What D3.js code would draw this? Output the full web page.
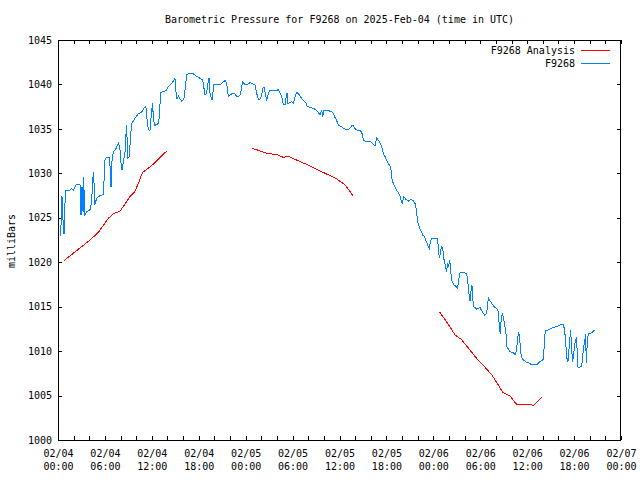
<!DOCTYPE html>
<html><head><meta charset="utf-8">
<script src="https://cdn.jsdelivr.net/npm/d3@7"></script>
<style>
body{margin:0;background:#fff;}
text{font-family:"DejaVu Sans Mono","Liberation Mono",monospace;font-size:10px;fill:#000;}
</style></head><body>
<svg id="chart" width="640" height="480"></svg>
<script>
const titleText = "Barometric Pressure for F9268 on 2025-Feb-04 (time in UTC)";
const yLabel = "milliBars";
const seriesNames = ["F9268 Analysis", "F9268"];
const seriesColors = ["#ff0000", "#0080ff"];
const yTicks = [1000,1005,1010,1015,1020,1025,1030,1035,1040,1045];
// hours since 2025-02-04 00:00 UTC
const stationHours = [0.34,0.38,0.51,0.68,0.77,0.9,1.02,1.53,1.75,1.96,2.39,2.81,2.94,3.07,3.2,3.28,3.41,3.67,4.09,4.31,4.43,4.56,4.69,4.94,5.37,5.8,6.01,6.22,6.52,6.65,6.78,6.91,7.08,7.42,7.76,7.93,8.06,8.18,8.35,8.57,8.7,8.78,8.91,9.12,9.29,9.42,9.85,10.27,10.7,11.13,11.25,11.42,11.55,11.76,11.98,12.11,12.19,12.4,12.83,12.96,13.13,13.47,13.81,14.11,14.54,14.96,15.09,15.22,15.39,15.6,15.81,16.11,16.28,16.45,16.88,17.31,17.73,
18.16,18.5,18.67,18.8,19.01,19.14,19.31,19.44,19.56,19.69,19.95,20.29,20.72,21.14,21.36,21.57,21.78,21.99,22.21,22.63,22.85,23.19,23.36,23.49,23.61,23.83,24.13,24.55,24.98,25.19,25.41,25.62,25.83,26.05,26.17,26.34,26.51,26.68,26.9,27.11,27.54,27.96,28.18,28.39,28.6,28.82,29.03,29.16,29.29,29.41,29.67,29.88,30.1,30.31,30.52,30.73,30.95,31.16,31.37,31.72,31.88,32.23,32.65,32.99,33.29,33.5,33.72,33.84,34.02,34.27,34.57,34.99,35.21,35.42,35.64,35.85,36.28,36.49,36.92,37.34,37.55,37.77,37.98,38.19,38.62,38.83,39.05,39.47,39.98,40.32,40.54,40.75,40.96,
41.18,41.39,41.6,41.82,42.03,42.24,42.46,42.58,42.71,42.88,43.09,43.31,43.52,43.73,43.86,44.03,44.24,44.5,44.8,45.1,45.44,45.65,45.78,45.87,45.99,46.21,46.42,46.63,46.84,47.06,47.27,47.48,47.66,47.78,48.21,48.55,48.68,48.81,48.93,49.06,49.19,49.4,49.57,49.7,49.83,49.96,50.09,50.21,
50.34,50.55,50.98,51.11,51.24,51.41,51.83,52.26,52.39,52.47,52.6,52.69,52.81,52.94,53.03,53.15,53.32,53.54,53.75,53.96,54.18,54.39,54.6,54.82,54.94,55.07,55.24,55.46,55.75,56.1,56.31,56.44,56.57,56.69,56.82,56.95,57.12,57.29,57.42,57.59,57.8,58.23,58.44,58.65,58.78,58.91,59.04,59.17,59.29,59.51,59.93,60.36,60.57,61.21,61.42,61.64,61.85,62.06,62.19,62.32,62.7,63.13,63.34,63.77,63.98,64.19,64.53,64.66,64.83,64.96,65.09,65.22,65.34,65.47,65.56,65.69,65.81,65.94,66.07,66.2,66.33,66.45,66.58,66.96,67.09,67.22,67.35,67.48,67.56,67.69,67.82,68.03,68.29,68.46,68.63];
const stationPressure = [1022.9,1024.0,1027.4,1024.0,1023.2,1026.8,1028.1,1028.1,1028.3,1028.1,1028.8,1028.8,1025.3,1028.5,1025.7,1029.6,1025.3,1025.7,1025.9,1026.8,1029.3,1030.2,1026.4,1027.2,1027.5,1027.6,1031.5,1031.8,1031.8,1030.9,1028.5,1031.5,1032.4,1032.8,1033.45,1032.6,1031.1,1030.4,1031.2,1032.4,1034.5,1035.4,1031.7,1031.9,1034.3,1035.6,1036.2,1036.7,1036.9,1037.5,1037.4,1035.8,1034.9,1034.8,1037.1,1037.9,1036.1,1035.4,1035.6,1036.4,1039.1,1039.2,1039.3,1039.75,1040.1,1040.7,1039.2,1038.4,1038.7,1038.4,1038.1,1038.4,1039.6,1041.1,1041.25,1041.2,1040.9,
1040.69,1040.5,1039.56,1038.81,1039.0,1039.94,1040.69,1039.0,1038.63,1038.25,1040.05,1040.05,1039.94,1040.31,1040.43,1040.13,1038.63,1038.81,1038.93,1038.93,1038.63,1038.7,1039.0,1039.75,1040.31,1040.05,1039.94,1040.2,1040.05,1039.94,1039.0,1038.33,1038.33,1038.7,1039.56,1039.68,1039.0,1038.18,1039.0,1039.3,1039.26,1039.3,1039.45,1039.0,1038.63,1037.69,1037.69,1038.44,1039.08,1037.88,1037.95,1038.06,1037.88,1038.63,1039.08,1039.0,1038.7,1038.44,1038.18,1037.95,1037.5,1037.43,1037.31,1037.13,1036.83,1036.56,1037.13,1036.38,1037.13,1037.05,1037.05,1036.94,1036.75,1036.3,1035.93,1035.44,1035.25,1035.06,1034.88,1035.06,1035.33,1035.33,1035.06,1034.88,1034.8,1034.69,1033.75,1033.56,1033.56,1033.3,1033.08,1033.94,1033.75,
1033.45,1033.0,1032.25,1031.88,1031.5,1031.13,1030.83,1030.38,1029.33,1028.88,1028.5,1028.05,1027.83,1027.45,1027.0,1026.63,1027.38,1027.08,1026.85,1027.08,1026.93,1026.63,1026.18,1025.5,1024.57,1023.93,1023.55,1023.06,1022.95,1022.43,1021.94,1021.57,1022.43,1022.69,1022.62,1022.62,1021.0,1020.44,1021.38,1021.75,1021.57,1020.07,1019.5,1018.94,1019.88,1019.5,1020.25,1019.13,
1018.0,1017.55,1017.18,1017.07,1018.0,1018.83,1018.87,1018.68,1018.0,1017.25,1016.13,1015.68,1016.69,1017.44,1015.94,1015.0,1014.93,1014.7,1014.82,1014.93,1014.55,1014.25,1014.03,1014.25,1015.38,1015.94,1015.68,1015.38,1015.0,1014.82,1014.44,1012.75,1011.93,1013.88,1014.18,1013.88,1012.94,1012.0,1010.5,1010.24,1009.94,1009.83,1009.57,1010.13,1011.44,1012.12,1011.44,1009.94,1009.3,1009.0,1008.74,1008.63,1008.44,1008.48,1008.63,1008.82,1008.93,1009.08,1010.69,1012.37,1012.37,1012.57,1012.68,1012.75,1012.83,1012.94,1013.02,1012.94,1012.0,1010.5,1009.19,1008.82,1010.13,1011.44,1012.37,1010.13,1008.82,1009.57,1010.69,1011.25,1011.63,1008.25,1008.18,1008.25,1009.3,1010.5,1011.07,1011.93,1008.63,1011.07,1011.93,1012.0,1012.09,1012.24,1012.37];
// analysis (null = gap)
const analysisHours = [0.8,2.8,4.1,5.2,6.4,7.1,7.9,8.6,9.2,9.8,10.3,10.8,11.8,12.4,13.3,13.9, 19,
24.85,25.6,26.7,28.0,28.8,29.5,30.5,31.8,33.1,34.4,35.6,36.7,37.8, 43,
48.8,49.7,50.8,51.6,52.7,53.7,54.6,55.5,56.3,56.9,57.8,58.7,59.9,60.8,61.9];
const analysisPressure = [1020.2,1021.6,1022.5,1023.4,1024.9,1025.5,1025.7,1026.6,1027.4,1027.9,1028.9,1030.1,1030.75,1031.2,1032.0,1032.5, null,
1032.8,1032.6,1032.25,1032.1,1031.8,1031.9,1031.5,1031.0,1030.45,1029.9,1029.4,1028.7,1027.4, null,
1014.4,1013.3,1011.8,1011.3,1010.1,1009.0,1008.2,1007.3,1006.2,1005.35,1004.95,1003.95,1004.05,1003.9,1004.8];

const t0 = Date.UTC(2025,1,4);
const toDate = h => new Date(t0 + h*3600e3);
const svg = d3.select("#chart");
const L=58, R=621, T=40, B=440;
const x = d3.scaleUtc().domain([toDate(0), toDate(72)]).range([L,R]);
const y = d3.scaleLinear().domain([1000,1045]).range([B,T]);

// ticks
const minorTicks = d3.utcHour.every(2).range(toDate(0), toDate(72.01));
const g = svg.append("g").attr("shape-rendering","crispEdges");
g.append("g").attr("transform",`translate(0,${B})`)
  .call(d3.axisBottom(x).tickValues(minorTicks).tickSize(-4).tickFormat(""))
  .call(a=>a.select(".domain").remove());
g.append("g").attr("transform",`translate(0,${T})`)
  .call(d3.axisTop(x).tickValues(minorTicks).tickSize(-4).tickFormat(""))
  .call(a=>a.select(".domain").remove());
g.append("g").attr("transform",`translate(${L},0)`)
  .call(d3.axisLeft(y).tickValues(yTicks).tickSize(-4).tickPadding(6).tickFormat(d3.format("d")))
  .call(a=>a.select(".domain").remove())
  .call(a=>a.selectAll("text").style("font-family","DejaVu Sans Mono").style("font-size","10px"));
g.append("g").attr("transform",`translate(${R},0)`)
  .call(d3.axisRight(y).tickValues(yTicks).tickSize(-4).tickFormat(""))
  .call(a=>a.select(".domain").remove());

// x labels
const majorTicks = d3.utcHour.every(6).range(toDate(0), toDate(72.01));
const fmtD = d3.utcFormat("%m/%d"), fmtT = d3.utcFormat("%H:%M");
const xl = svg.append("g").attr("transform",`translate(0,${B})`)
  .call(d3.axisBottom(x).tickValues(majorTicks).tickSize(0).tickFormat(""));
xl.select(".domain").remove();
xl.selectAll(".tick").append("text").attr("text-anchor","middle").attr("fill","#000")
  .each(function(d){
    const t=d3.select(this);
    t.append("tspan").attr("x",0).attr("y",17).text(fmtD(d));
    t.append("tspan").attr("x",0).attr("y",30).text(fmtT(d));
  });

// frame
svg.append("rect").attr("x",L+0.5).attr("y",T+0.5).attr("width",R-L-1).attr("height",B-T)
  .attr("fill","none").attr("stroke","#000").attr("shape-rendering","crispEdges");

// title & y label
svg.append("text").attr("x",(L+R)/2).attr("y",23).attr("text-anchor","middle").text(titleText);
svg.append("text").attr("transform","translate(15,241) rotate(-90)").attr("text-anchor","middle").text(yLabel);

// lines
const line = d3.line().defined(d=>d[1]!=null).x(d=>x(toDate(d[0]))).y(d=>y(d[1]));
const aData = analysisHours.map((h,i)=>[h,analysisPressure[i]]);
const sData = stationHours.map((h,i)=>[h,stationPressure[i]]);
svg.append("path").datum(aData).attr("d",line).attr("fill","none").attr("stroke",seriesColors[0])
  .attr("stroke-width",1).attr("shape-rendering","crispEdges");
svg.append("path").datum(sData).attr("d",line).attr("fill","none").attr("stroke",seriesColors[1])
  .attr("stroke-width",1).attr("shape-rendering","crispEdges");

// legend
const leg = svg.append("g");
seriesNames.forEach((n,i)=>{
  const yy = 50 + i*13.5;
  leg.append("text").attr("x",575).attr("y",yy+3.5).attr("text-anchor","end").text(n);
  leg.append("line").attr("x1",581).attr("x2",610).attr("y1",yy).attr("y2",yy)
    .attr("stroke",seriesColors[i]).attr("stroke-width",1).attr("shape-rendering","crispEdges");
});
</script></body></html>
